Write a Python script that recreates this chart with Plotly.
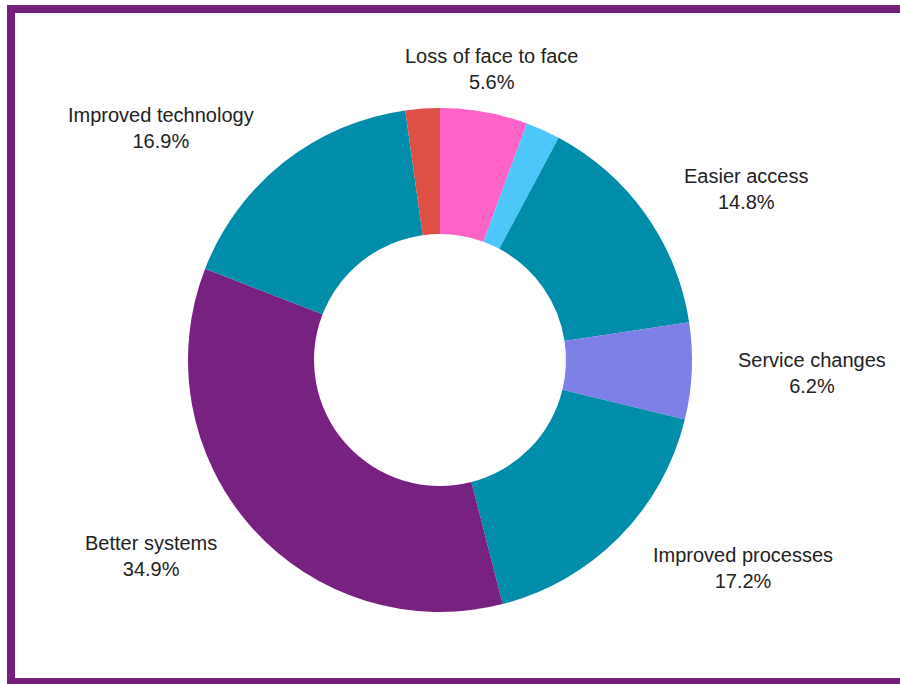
import math
import plotly.graph_objects as go

# Survey responses, in clockwise order starting at 12 o'clock
categories = [
    "Loss of face to face",
    "Other (positive)",
    "Easier access",
    "Service changes",
    "Improved processes",
    "Better systems",
    "Improved technology",
    "Other (negative)",
]
shares = [5.6, 2.2, 14.8, 6.2, 17.2, 34.9, 16.9, 2.2]
show_label = [True, False, True, True, True, True, True, False]
colors = ["#FF63C8", "#4DC6FA", "#008DA9", "#7F7FE8", "#008DA9",
          "#772180", "#008DA9", "#DE5046"]

W, H = 900, 684
CX, CY, R = 440, 360, 252          # pie centre and outer radius in pixels
LABEL_R = 296                      # radius where labels are anchored

fig = go.Figure(go.Pie(
    labels=categories,
    values=shares,
    sort=False,
    direction="clockwise",
    rotation=0,
    hole=0.5,
    marker=dict(colors=colors, line=dict(width=0)),
    textinfo="none",
    hoverinfo="label+percent",
    showlegend=False,
    domain=dict(x=[(CX - R) / W, (CX + R) / W],
                y=[1 - (CY + R) / H, 1 - (CY - R) / H]),
))

# Labels placed along each slice's mid-angle
total = sum(shares)
start = 0.0
annotations = []
for name, val, show in zip(categories, shares, show_label):
    sweep = val / total * 360
    mid = math.radians(start + sweep / 2)
    start += sweep
    if not show:
        continue
    px = CX + LABEL_R * math.sin(mid)
    py = CY - LABEL_R * math.cos(mid)
    sx = math.sin(mid)
    if abs(sx) < 0.3:
        anchor = "center"
    elif sx > 0:
        anchor = "left"
    else:
        anchor = "right"
    annotations.append(dict(
        x=px / W, y=1 - py / H, xref="paper", yref="paper",
        text=f"{name}<br>{val:.1f}%",
        showarrow=False, xanchor=anchor, yanchor="middle", align="center",
        font=dict(family="Liberation Sans, Arial, sans-serif", size=20, color="#222222"),
    ))

fig.update_layout(
    width=W, height=H,
    margin=dict(l=0, r=0, t=0, b=0),
    paper_bgcolor="white",
    annotations=annotations,
    shapes=[dict(
        type="rect", xref="paper", yref="paper",
        x0=11 / W, x1=1.02, y0=1 - 682 / H, y1=1 - 9 / H,
        line=dict(color="#73207B", width=8), fillcolor="rgba(0,0,0,0)",
    )],
)

fig.write_html("out.html")
